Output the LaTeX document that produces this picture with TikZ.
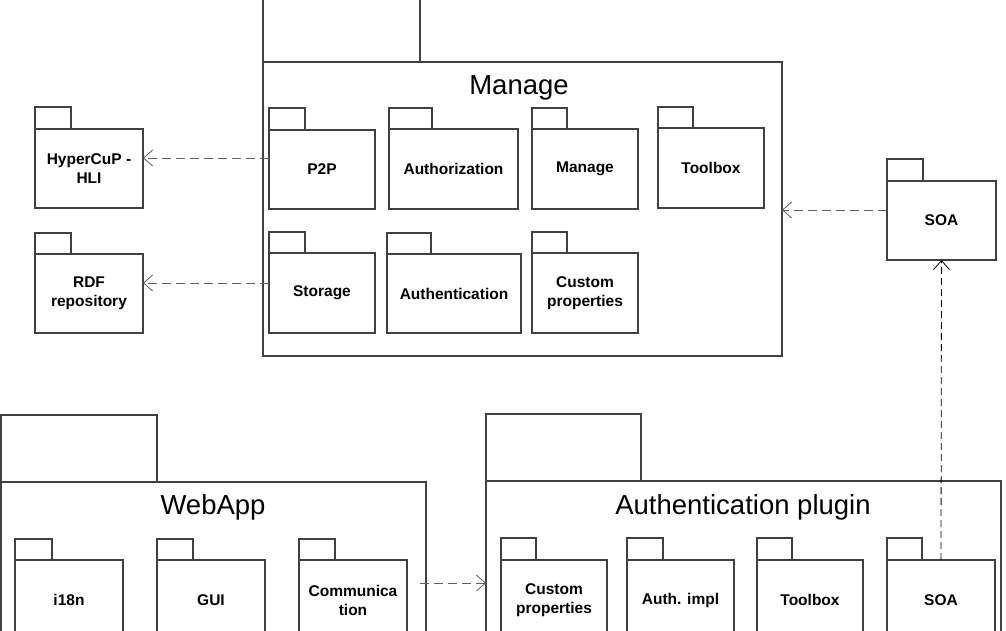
\documentclass[tikz,border=0pt]{standalone}
\usepackage{fontspec}
\setmainfont{Liberation Sans}
\usetikzlibrary{arrows.meta}
\newcommand\pkg[8]{%
  \node[pkgbody, minimum width=#4pt, minimum height=#5pt, anchor=north west] (#1) at (#2,#3) {};
  \node[pkgbody, minimum width=#6pt, minimum height=#7pt, anchor=south west] (#1-tab) at (#1.north west) {};
  \node[lbl] (#1-lbl) at (#1.center) {#8};}
\begin{document}
\begin{tikzpicture}[x=1pt,y=-1pt,
  pkgbody/.style={draw=black!75, line width=1.1pt, fill=white, inner sep=0pt, outer sep=0pt},
  lbl/.style={align=center, font=\fontsize{15.5}{19}\selectfont\bfseries, inner sep=0pt},
  ttl/.style={font=\fontsize{27.5}{30}\selectfont, inner sep=0pt, anchor=base},
  dep/.style={draw=black!62, line width=1pt, dash pattern=on 9pt off 5pt,
    -{Straight Barb[length=9pt,width=16pt,line width=0.8pt]}},
  depv/.style={draw=black, line width=0.8pt, dash pattern=on 7pt off 4pt,
    -{Straight Barb[length=9pt,width=16pt,line width=0.8pt]}}]
\useasboundingbox (0,0) rectangle (1006,630);
\clip (0,0) rectangle (1006,630);
\fill[white] (0,0) rectangle (1006,630);
% Manage
\pkg{manage}{263}{62}{519}{294}{157}{72}{}
\node[ttl] (manage-title) at (519,94) {Manage};
\pkg{p2p}{269}{130}{106}{79}{36}{22}{P2P}
\pkg{authz}{389}{129}{129}{80}{43}{21}{Authorization}
\pkg{mng}{532}{129}{106}{80}{35}{21}{Manage}
\pkg{toolbox}{658}{128}{106}{80}{35}{21}{Toolbox}
\pkg{storage}{269}{253}{106}{80}{36}{21}{Storage}
\pkg{authn}{387}{254}{134}{79}{44}{21}{Authentication}
\pkg{custom}{532}{253}{106}{80}{35}{21}{Custom\\properties}
% left packages
\pkg{hyper}{35}{129}{108}{79}{36}{22}{HyperCuP -\\HLI}
\pkg{rdf}{35}{254}{108}{79}{36}{21}{RDF\\repository}
% SOA
\pkg{soa}{887}{181}{109}{79}{36}{22}{SOA}
% WebApp
\pkg{webapp}{1}{482}{425}{200}{156}{67}{}
\node[ttl] (webapp-title) at (213,514) {WebApp};
\pkg{i18n}{15}{560}{108}{80}{37}{21}{i18n}
\pkg{gui}{157}{560}{108}{80}{36}{21}{GUI}
\pkg{comm}{299}{560}{108}{80}{36}{21}{Communica\\tion}
% Authentication plugin
\pkg{plugin}{486}{481}{515}{200}{155}{67}{}
\node[ttl] (plugin-title) at (743,514) {Authentication plugin};
\pkg{custom2}{501}{560}{106}{80}{35}{22}{Custom\\properties}
\pkg{authimpl}{627}{560}{107}{80}{36}{22}{Auth. impl}
\pkg{toolbox2}{757}{560}{106}{80}{35}{22}{Toolbox}
\pkg{soa2}{887}{560}{108}{80}{35}{22}{SOA}
% dependencies
\draw[dep] ([yshift=11.5pt]p2p.west) -- ([yshift=11.5pt]p2p.west -| hyper.east);
\draw[dep] ([yshift=10pt]storage.west) -- ([yshift=10pt]storage.west -| rdf.east);
\draw[dep] ([yshift=10.5pt]soa.west) -- ([yshift=10.5pt]soa.west -| manage.east);
\draw[dep] ([yshift=17pt,xshift=-6pt]comm.east -| webapp.east) -- ([yshift=17pt]comm.east -| plugin.west);
\draw[depv] (soa2.north) -- (soa.south);
\end{tikzpicture}
\end{document}
